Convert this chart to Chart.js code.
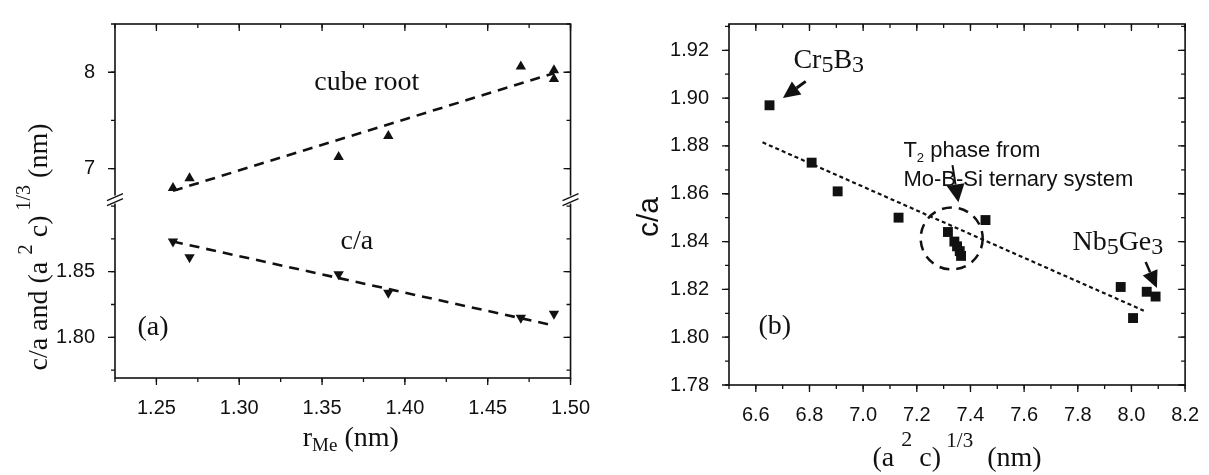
<!DOCTYPE html>
<html>
<head>
<meta charset="utf-8">
<script src="https://cdn.jsdelivr.net/npm/chart.js@4.4.1/dist/chart.umd.min.js"></script>
<style>
  html, body { margin: 0; padding: 0; background: #fff; }
  #wrap { position: relative; width: 1209px; height: 475px; }
  canvas { position: absolute; top: 0; }
  #chartA { left: 0; }
  #chartB { left: 600px; }
</style>
</head>
<body>
<div id="wrap">
  <canvas id="chartA" width="600" height="475"></canvas>
  <canvas id="chartB" width="609" height="475"></canvas>
</div>
<script>
// ---- panel (a): r_Me vs cube root and c/a ----
const rMeCube = [1.26, 1.27, 1.36, 1.39, 1.47, 1.49, 1.49];
const cubeRootA = [6.80, 6.90, 7.12, 7.34, 8.06, 8.02, 7.93];
const rMeRatio = [1.26, 1.27, 1.36, 1.39, 1.47, 1.49];
const ratioA = [1.873, 1.861, 1.848, 1.834, 1.815, 1.818];
const fitXA = [1.26, 1.49];
const cubeFitA = [6.77, 7.99];
const ratioFitA = [1.873, 1.809];
const ticksXA = [1.25, 1.30, 1.35, 1.40, 1.45, 1.50];
const ticksCubeA = [7, 8];
const ticksRatioA = [1.80, 1.85];

// ---- panel (b): cube root vs c/a ----
const cubeRootB = [6.651, 6.808, 6.905, 7.132, 7.316, 7.34, 7.35, 7.36, 7.365, 7.456, 7.96, 8.006, 8.057, 8.09];
const ratioB = [1.897, 1.873, 1.861, 1.850, 1.844, 1.840, 1.838, 1.836, 1.834, 1.849, 1.821, 1.808, 1.819, 1.817];
const fitXB = [6.625, 8.046];
const fitYB = [1.8815, 1.8111];
const ticksXB = [6.6, 6.8, 7.0, 7.2, 7.4, 7.6, 7.8, 8.0, 8.2];
const ticksYB = [1.78, 1.80, 1.82, 1.84, 1.86, 1.88, 1.90, 1.92];

const SANS = "'Liberation Sans', Arial, sans-serif";
const SERIF = "'Liberation Serif', 'Times New Roman', serif";
const INK = '#111';

const pts = (xs, ys) => xs.map((x, i) => ({ x: x, y: ys[i] }));

function minorTicks(min, max, step) {
  const out = [];
  for (let v = Math.ceil(min / step - 1e-9) * step; v <= max + 1e-9; v += step) out.push(+v.toFixed(6));
  return out;
}

// text made of runs: [text, size, dy, family]
function rich(ctx, x, y, parts, align) {
  let w = 0;
  parts.forEach(p => { ctx.font = p[1] + 'px ' + (p[3] || SERIF); w += ctx.measureText(p[0]).width; });
  let cx = align === 'center' ? x - w / 2 : x;
  ctx.textAlign = 'left';
  ctx.textBaseline = 'alphabetic';
  parts.forEach(p => {
    ctx.font = p[1] + 'px ' + (p[3] || SERIF);
    ctx.fillText(p[0], cx, y + (p[2] || 0));
    cx += ctx.measureText(p[0]).width;
  });
}

function arrow(ctx, x1, y1, x2, y2, headLen, headW, lw) {
  const ang = Math.atan2(y2 - y1, x2 - x1);
  const bx = x2 - headLen * Math.cos(ang), by = y2 - headLen * Math.sin(ang);
  ctx.lineWidth = lw;
  ctx.beginPath();
  ctx.moveTo(x1, y1);
  ctx.lineTo(bx, by);
  ctx.stroke();
  ctx.beginPath();
  ctx.moveTo(x2, y2);
  ctx.lineTo(bx + headW * Math.sin(ang), by - headW * Math.cos(ang));
  ctx.lineTo(bx - headW * Math.sin(ang), by + headW * Math.cos(ang));
  ctx.closePath();
  ctx.fill();
}

// frame on all four sides, ticks in/out like the Origin plot, axis break marks
const framePlugin = {
  id: 'frame',
  afterDraw(chart, args, opts) {
    const ctx = chart.ctx, a = chart.chartArea;
    ctx.save();
    ctx.strokeStyle = INK;
    ctx.lineWidth = 1.6;
    ctx.strokeRect(a.left, a.top, a.right - a.left, a.bottom - a.top);
    ctx.lineWidth = 1.3;
    opts.axes.forEach(ax => {
      const s = chart.scales[ax.id];
      const tick = (v, len) => {
        const p = s.getPixelForValue(v);
        ctx.beginPath();
        if (s.isHorizontal()) {
          ctx.moveTo(p, a.bottom); ctx.lineTo(p, a.bottom + len);
          ctx.moveTo(p, a.top); ctx.lineTo(p, a.top + len);
        } else {
          ctx.moveTo(a.left, p); ctx.lineTo(a.left - len, p);
          ctx.moveTo(a.right, p); ctx.lineTo(a.right - len, p);
        }
        ctx.stroke();
      };
      minorTicks(s.min, s.max, ax.minorStep).forEach(v => tick(v, 4));
      ax.major.forEach(v => { if (v >= s.min - 1e-9 && v <= s.max + 1e-9) tick(v, 7); });
    });
    if (opts.breakAxes) {
      const yb = Math.min(chart.scales[opts.breakAxes[0]].bottom, chart.scales[opts.breakAxes[1]].bottom);
      [a.left, a.right].forEach(x => {
        ctx.fillStyle = '#fff';
        ctx.fillRect(x - 3, yb - 4, 6, 8);
        ctx.beginPath();
        ctx.moveTo(x - 8, yb + 1); ctx.lineTo(x + 8, yb - 6);
        ctx.moveTo(x - 8, yb + 6); ctx.lineTo(x + 8, yb - 1);
        ctx.stroke();
      });
    }
    ctx.restore();
  }
};

const notesA = {
  id: 'notesA',
  afterDraw(chart) {
    const ctx = chart.ctx, a = chart.chartArea;
    const x = chart.scales.x, yc = chart.scales.yCube, yr = chart.scales.yRatio;
    ctx.save();
    ctx.fillStyle = INK;
    rich(ctx, x.getPixelForValue(1.377), yc.getPixelForValue(7.82), [['cube root', 28]], 'center');
    rich(ctx, x.getPixelForValue(1.371), yr.getPixelForValue(1.867), [['c/a', 28]], 'center');
    rich(ctx, x.getPixelForValue(1.2386), yr.getPixelForValue(1.8015), [['(a)', 28]], 'left');
    // x title
    rich(ctx, (a.left + a.right) / 2 + 8, 446, [['r', 28], ['Me', 19, 5], [' (nm)', 28]], 'center');
    // y title
    ctx.translate(47, 247);
    ctx.rotate(-Math.PI / 2);
    rich(ctx, 0, 0, [['c/a and (a ', 28], ['2', 21, -15], [' c)', 28], [' 1/3', 20, -17], [' (nm)', 28]], 'center');
    ctx.restore();
  }
};

const notesB = {
  id: 'notesB',
  afterDraw(chart) {
    const ctx = chart.ctx, a = chart.chartArea;
    const x = chart.scales.x, y = chart.scales.y;
    const X = v => x.getPixelForValue(v), Y = v => y.getPixelForValue(v);
    ctx.save();
    ctx.fillStyle = INK;
    ctx.strokeStyle = INK;
    rich(ctx, X(6.74), Y(1.9124), [['Cr', 28], ['5', 24, 4], ['B', 28], ['3', 24, 4]], 'left');
    arrow(ctx, X(6.786), Y(1.907), X(6.701), Y(1.900), 17, 8, 3);
    rich(ctx, X(7.15), Y(1.8754), [['T', 22, 0, SANS], ['2', 13, 5, SANS], [' phase from', 22, 0, SANS]], 'left');
    rich(ctx, X(7.15), Y(1.8632), [['Mo-B-Si ternary system', 22, 0, SANS]], 'left');
    arrow(ctx, X(7.333), Y(1.872), X(7.355), Y(1.8564), 18, 9, 2);
    rich(ctx, X(7.78), Y(1.8363), [['Nb', 28], ['5', 24, 4], ['Ge', 28], ['3', 24, 4]], 'left');
    arrow(ctx, X(8.053), Y(1.8314), X(8.095), Y(1.8206), 17, 8, 2.5);
    rich(ctx, X(6.61), Y(1.8012), [['(b)', 28]], 'left');
    // dashed ring round the T2 points
    ctx.lineWidth = 2.5;
    ctx.setLineDash([10, 7]);
    ctx.beginPath();
    ctx.ellipse(X(7.33), Y(1.8413), 31, 31, 0, 0, Math.PI * 2);
    ctx.stroke();
    ctx.setLineDash([]);
    // x title
    rich(ctx, (a.left + a.right) / 2, 466, [['(a ', 28], ['2', 22, -20], [' c)', 28], [' 1/3', 21, -19], ['  (nm)', 28]], 'center');
    // y title
    ctx.translate(58, 217);
    ctx.rotate(-Math.PI / 2);
    rich(ctx, 0, 0, [['c/a', 30, 0, SANS]], 'center');
    ctx.restore();
  }
};

const tickFont = { family: SANS, size: 20 };

const chartA = new Chart(document.getElementById('chartA'), {
  type: 'scatter',
  data: {
    datasets: [
      {
        data: pts(fitXA, cubeFitA), yAxisID: 'yCube', showLine: true, pointRadius: 0,
        borderColor: INK, borderWidth: 2.6, borderDash: [10, 7]
      },
      {
        data: pts(fitXA, ratioFitA), yAxisID: 'yRatio', showLine: true, pointRadius: 0,
        borderColor: INK, borderWidth: 2.6, borderDash: [10, 7]
      },
      {
        data: pts(rMeCube, cubeRootA), yAxisID: 'yCube', pointStyle: 'triangle', pointRadius: 6,
        backgroundColor: INK, borderColor: INK, borderWidth: 0
      },
      {
        data: pts(rMeRatio, ratioA), yAxisID: 'yRatio', pointStyle: 'triangle', rotation: 180, pointRadius: 6,
        backgroundColor: INK, borderColor: INK, borderWidth: 0
      }
    ]
  },
  options: {
    responsive: false,
    animation: false,
    layout: { padding: { top: 11, right: 24, left: 0, bottom: 0 } },
    plugins: {
      legend: { display: false },
      tooltip: { enabled: false },
      frame: {
        axes: [
          { id: 'x', major: ticksXA, minorStep: 0.025 },
          { id: 'yCube', major: ticksCubeA, minorStep: 0.5 },
          { id: 'yRatio', major: ticksRatioA, minorStep: 0.025 }
        ],
        breakAxes: ['yCube', 'yRatio']
      }
    },
    scales: {
      x: {
        type: 'linear', min: 1.225, max: 1.50,
        grid: { display: false }, border: { display: false },
        afterBuildTicks: s => { s.ticks = ticksXA.map(v => ({ value: v })); },
        afterFit: s => { s.height = 97; },
        ticks: { font: tickFont, color: INK, padding: 10, maxRotation: 0, autoSkip: false, callback: v => v.toFixed(2) }
      },
      // the lower segment is listed first so that the upper one is stacked on top of it
      yRatio: {
        type: 'linear', position: 'left', stack: 'a', stackWeight: 185, min: 1.769, max: 1.905,
        grid: { display: false }, border: { display: false },
        afterBuildTicks: s => { s.ticks = ticksRatioA.map(v => ({ value: v })); },
        afterFit: s => { s.width = 115; },
        ticks: { font: tickFont, color: INK, padding: 12, callback: v => v.toFixed(2) }
      },
      yCube: {
        type: 'linear', position: 'left', stack: 'a', stackWeight: 182, min: 6.68, max: 8.5,
        grid: { display: false }, border: { display: false },
        afterBuildTicks: s => { s.ticks = ticksCubeA.map(v => ({ value: v })); },
        afterFit: s => { s.width = 115; },
        ticks: { font: tickFont, color: INK, padding: 12, callback: v => String(v) }
      }
    }
  },
  plugins: [framePlugin, notesA]
});

const chartB = new Chart(document.getElementById('chartB'), {
  type: 'scatter',
  data: {
    datasets: [
      {
        data: pts(fitXB, fitYB), showLine: true, pointRadius: 0,
        borderColor: INK, borderWidth: 2.2, borderDash: [4, 3]
      },
      {
        data: pts(cubeRootB, ratioB), pointStyle: 'rect', pointRadius: 7,
        backgroundColor: INK, borderColor: INK, borderWidth: 0
      }
    ]
  },
  options: {
    responsive: false,
    animation: false,
    layout: { padding: { top: 13, right: 17, left: 0, bottom: 0 } },
    plugins: {
      legend: { display: false },
      tooltip: { enabled: false },
      frame: {
        axes: [
          { id: 'x', major: ticksXB, minorStep: 0.1 },
          { id: 'y', major: ticksYB, minorStep: 0.01 }
        ]
      }
    },
    scales: {
      x: {
        type: 'linear', min: 6.5, max: 8.2,
        grid: { display: false }, border: { display: false },
        afterBuildTicks: s => { s.ticks = ticksXB.map(v => ({ value: v })); },
        afterFit: s => { s.height = 90; },
        ticks: { font: tickFont, color: INK, padding: 10, maxRotation: 0, autoSkip: false, callback: v => v.toFixed(1) }
      },
      y: {
        type: 'linear', min: 1.78, max: 1.931,
        grid: { display: false }, border: { display: false },
        afterBuildTicks: s => { s.ticks = ticksYB.map(v => ({ value: v })); },
        afterFit: s => { s.width = 129; },
        ticks: { font: tickFont, color: INK, padding: 12, callback: v => v.toFixed(2) }
      }
    }
  },
  plugins: [framePlugin, notesB]
});
</script>
</body>
</html>
